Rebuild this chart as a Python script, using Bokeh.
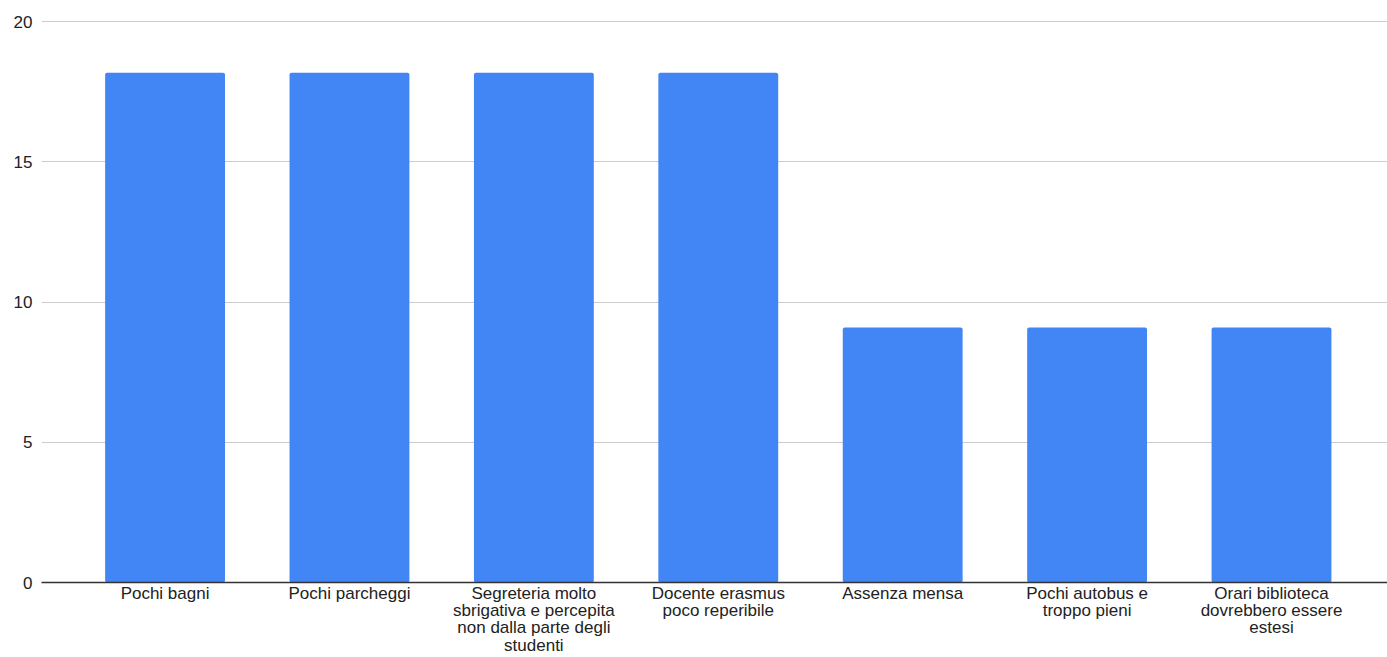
from bokeh.plotting import figure
from bokeh.models import Range1d, FixedTicker, ColumnDataSource
from bokeh.embed import file_html
from bokeh.resources import INLINE
import numpy as np

categories = [
    "Pochi bagni",
    "Pochi parcheggi",
    "Segreteria molto\nsbrigativa e percepita\nnon dalla parte degli\nstudenti",
    "Docente erasmus\npoco reperibile",
    "Assenza mensa",
    "Pochi autobus e\ntroppo pieni",
    "Orari biblioteca\ndovrebbero essere\nestesi",
]
values = [18.18, 18.18, 18.18, 18.18, 9.09, 9.09, 9.09]
y_ticks = [0, 5, 10, 15, 20]

xs = list(np.arange(len(categories)))
src = ColumnDataSource(data=dict(x=xs, top=values))

p = figure(width=1387, height=657, output_backend="svg", toolbar_location=None,
           x_range=Range1d(-0.670, 6.629), y_range=Range1d(0, 20.04),
           min_border_left=41, min_border_right=0, min_border_top=20, min_border_bottom=0)
p.outline_line_color = None
p.background_fill_color = "white"
p.border_fill_color = "white"

p.vbar(x="x", top="top", width=0.65, source=src, fill_color="#4285F4",
       line_color=None, border_radius=2)

p.xgrid.grid_line_color = None
p.ygrid.grid_line_color = "#cccccc"
p.ygrid.grid_line_width = 1

p.yaxis.ticker = FixedTicker(ticks=y_ticks)
p.yaxis.axis_line_color = None
p.yaxis.major_tick_line_color = None
p.yaxis.minor_tick_line_color = None
p.yaxis.major_tick_out = 0
p.yaxis.major_label_standoff = 9
p.yaxis.major_label_text_font = "Liberation Sans"
p.yaxis.major_label_text_font_size = "17px"
p.yaxis.major_label_text_color = "#222222"

p.xaxis.ticker = FixedTicker(ticks=xs)
p.xaxis.major_label_overrides = {int(i): c for i, c in zip(xs, categories)}
p.xaxis.axis_line_color = "#333333"
p.xaxis.axis_line_width = 1.5
p.xaxis.major_tick_line_color = None
p.xaxis.minor_tick_line_color = None
p.xaxis.major_tick_out = 0
p.xaxis.major_label_standoff = 1
p.xaxis.major_label_text_font = "Liberation Sans"
p.xaxis.major_label_text_font_size = "17px"
p.xaxis.major_label_text_color = "#222222"
p.xaxis.major_label_text_line_height = 0.92

open("out.html", "w").write(file_html(p, INLINE))
